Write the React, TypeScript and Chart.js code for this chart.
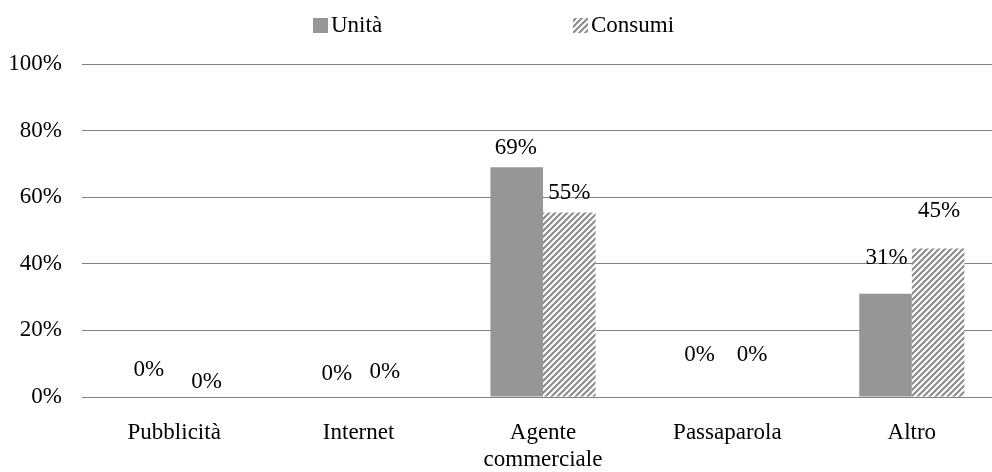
import React, { useEffect, useRef } from "react";
import { Chart, registerables } from "chart.js";

Chart.register(...registerables);

const categories = ["Pubblicità", "Internet", ["Agente", "commerciale"], "Passaparola", "Altro"];
const unita = [0, 0, 69, 0, 31];
const consumi = [0, 0, 55.4, 0, 44.6];
const yTicks = [0, 20, 40, 60, 80, 100];

// label nudges (dx, dy in px relative to bar top centre)
const unitaLabelShift = [[1, -27], [4.5, -23], [-1, -19], [-1.5, -42], [1, -36]];
const consumiLabelShift = [[6, -15], [0, -25], [0, -20], [-1.5, -42], [1, -38]];

const FONT = '"Liberation Serif", "Times New Roman", serif';
const FS = 23;
const GRAY = "#969696";

function makePattern(ctx: CanvasRenderingContext2D) {
  const c = document.createElement("canvas");
  c.width = 6;
  c.height = 6;
  const x = c.getContext("2d")!;
  x.fillStyle = "#ffffff";
  x.fillRect(0, 0, 6, 6);
  x.strokeStyle = "#8a8a8a";
  x.lineWidth = 2;
  x.beginPath();
  x.moveTo(0, 6);
  x.lineTo(6, 0);
  x.moveTo(-3, 3);
  x.lineTo(3, -3);
  x.moveTo(3, 9);
  x.lineTo(9, 3);
  x.stroke();
  return ctx.createPattern(c, "repeat")!;
}

export default function App() {
  const ref = useRef<HTMLCanvasElement>(null);
  useEffect(() => {
    document.body.style.margin = "0";
    document.body.style.overflow = "hidden";
    document.documentElement.style.overflow = "hidden";
    const canvas = ref.current!;
    const ctx = canvas.getContext("2d")!;
    const pattern = makePattern(ctx);

    const labelPlugin = {
      id: "barLabels",
      afterDatasetsDraw(chart: any) {
        const c = chart.ctx;
        c.save();
        c.font = `${FS}px ${FONT}`;
        c.fillStyle = "#000";
        c.textAlign = "center";
        c.textBaseline = "middle";
        const shifts = [unitaLabelShift, consumiLabelShift];
        chart.data.datasets.forEach((ds: any, di: number) => {
          const meta = chart.getDatasetMeta(di);
          meta.data.forEach((el: any, i: number) => {
            const [dx, dy] = shifts[di][i];
            c.fillText(Math.round(ds.data[i]) + "%", el.x + dx, el.y + dy);
          });
        });
        c.restore();
      },
    };

    const legendPlugin = {
      id: "customLegend",
      afterDraw(chart: any) {
        const c = chart.ctx;
        c.save();
        c.font = `${FS}px ${FONT}`;
        c.textBaseline = "middle";
        c.textAlign = "left";
        const items = [
          { x: 313, text: chart.data.datasets[0].label, fill: GRAY },
          { x: 573, text: chart.data.datasets[1].label, fill: pattern },
        ];
        items.forEach((it) => {
          c.fillStyle = it.fill;
          c.fillRect(it.x, 18, 15, 15);
          c.fillStyle = "#000";
          c.fillText(it.text, it.x + 18, 26);
        });
        c.restore();
      },
    };

    const chart = new Chart(ctx, {
      type: "bar",
      data: {
        labels: categories as any,
        datasets: [
          {
            label: "Unità",
            data: unita,
            backgroundColor: GRAY,
            borderWidth: 0,
            barPercentage: 1,
            categoryPercentage: 0.57,
          },
          {
            label: "Consumi",
            data: consumi,
            backgroundColor: pattern as any,
            borderWidth: 0,
            barPercentage: 1,
            categoryPercentage: 0.57,
          },
        ],
      },
      options: {
        animation: false,
        responsive: false,
        devicePixelRatio: 1,
        layout: { padding: { top: 64, left: 0, right: 0, bottom: 0 } },
        plugins: {
          legend: { display: false },
          tooltip: { enabled: false },
        },
        scales: {
          x: {
            grid: { display: false, drawTicks: false },
            border: { display: false },
            ticks: {
              color: "#000",
              font: { family: FONT, size: FS, lineHeight: 1.2 },
              padding: 22,
              maxRotation: 0,
              autoSkip: false,
            },
            afterFit(scale: any) {
              scale.height = 75;
            },
          },
          y: {
            min: 0,
            max: 100,
            grid: { color: "#808080", lineWidth: 1, drawTicks: false },
            border: { display: false },
            afterBuildTicks(scale: any) {
              scale.ticks = yTicks.map((v) => ({ value: v }));
            },
            ticks: {
              color: "#000",
              font: { family: FONT, size: FS },
              padding: 20,
              callback: (v: any) => v + "%",
            },
            afterFit(scale: any) {
              scale.width = 82;
            },
          },
        },
      },
      plugins: [labelPlugin, legendPlugin],
    });
    return () => chart.destroy();
  }, []);

  return (
    <div style={{ position: "absolute", left: 0, top: 0, width: 1004, height: 472, background: "#fff" }}>
      <canvas ref={ref} width={1004} height={472} style={{ display: "block" }} />
    </div>
  );
}
